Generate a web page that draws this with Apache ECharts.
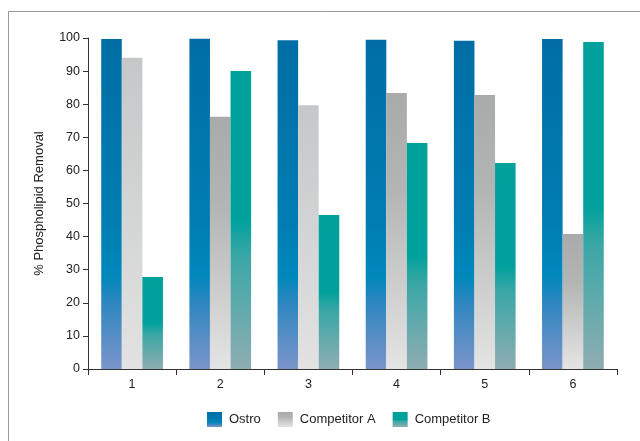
<!DOCTYPE html>
<html>
<head>
<meta charset="utf-8">
<script src="https://cdn.jsdelivr.net/npm/echarts@6/dist/echarts.min.js"></script>
<style>html,body{margin:0;padding:0;background:#fff}#c{width:640px;height:441px}</style>
</head>
<body>
<div id="c"></div>
<script>
var categories = ['1', '2', '3', '4', '5', '6'];
var seriesNames = ['Ostro', 'Competitor A', 'Competitor B'];
var ostro = [99.7, 99.8, 99.3, 99.5, 99.2, 99.7];
var competitorA = [94.0, 76.2, 79.7, 83.4, 82.8, 40.8];
var competitorB = [27.8, 90.0, 46.5, 68.3, 62.2, 98.8];
var yTicks = [0, 10, 20, 30, 40, 50, 60, 70, 80, 90, 100];

function grad(stops) {
  return new echarts.graphic.LinearGradient(0, 0, 0, 1, stops.map(function (s) { return { offset: s[0], color: s[1] }; }));
}
var ostroGrad = grad([[0, '#006ea5'], [0.55, '#007db3'], [0.72, '#0088bc'], [0.8, '#2f86bf'], [1, '#7b95ca']]);
var compBGrad = grad([[0, '#00a09b'], [0.5, '#00a19c'], [0.62, '#3aa7a6'], [1, '#8fadb3']]);
var compAGradDark = grad([[0, '#a9aaaa'], [0.35, '#b3b4b4'], [1, '#e4e4e4']]);
var compAGradLight = grad([[0, '#c5c7c8'], [1, '#e2e2e2']]);
var compALight = [true, false, true, false, false, false];

var chart = echarts.init(document.getElementById('c'), null, { renderer: 'canvas' });
var font = 'Liberation Sans, Arial, sans-serif';
chart.setOption({
  animation: false,
  backgroundColor: '#fff',
  graphic: [
    { type: 'line', shape: { x1: 8.5, y1: 11.5, x2: 640, y2: 11.5 }, style: { stroke: '#9a9a9a', lineWidth: 1 } },
    { type: 'line', shape: { x1: 8.5, y1: 11.5, x2: 8.5, y2: 441 }, style: { stroke: '#9a9a9a', lineWidth: 1 } }
  ],
  grid: { left: 88, right: 23, top: 38, bottom: 72, containLabel: false },
  legend: {
    top: 407,
    left: 202,
    icon: 'rect',
    itemWidth: 15,
    itemHeight: 15,
    itemGap: 17,
    textStyle: { fontFamily: font, fontSize: 13, color: '#222', padding: [0, 0, 0, 2] },
    data: seriesNames
  },
  xAxis: {
    type: 'category',
    data: categories,
    axisLine: { lineStyle: { color: '#333', width: 1 } },
    axisTick: { show: true, length: 6, lineStyle: { color: '#333' } },
    axisLabel: { fontFamily: font, fontSize: 12.5, color: '#222', margin: 9 }
  },
  yAxis: {
    type: 'value',
    min: yTicks[0],
    max: yTicks[yTicks.length - 1],
    interval: 10,
    name: '% Phospholipid Removal',
    nameLocation: 'middle',
    nameGap: 42,
    nameTextStyle: { fontFamily: font, fontSize: 13, color: '#222' },
    axisLine: { show: true, lineStyle: { color: '#333', width: 1 } },
    axisTick: { show: true, length: 5, lineStyle: { color: '#333' } },
    axisLabel: { fontFamily: font, fontSize: 12.5, color: '#222', margin: 8 },
    splitLine: { show: false }
  },
  series: [
    { name: seriesNames[0], type: 'bar', barGap: '0%', barCategoryGap: '30%', data: ostro, itemStyle: { color: ostroGrad } },
    { name: seriesNames[1], type: 'bar', barGap: '0%', barCategoryGap: '30%',
      data: competitorA.map(function (v, i) { return { value: v, itemStyle: { color: compALight[i] ? compAGradLight : compAGradDark } }; }),
      itemStyle: { color: compAGradDark } },
    { name: seriesNames[2], type: 'bar', barGap: '0%', barCategoryGap: '30%', data: competitorB, itemStyle: { color: compBGrad } }
  ]
});
</script>
</body>
</html>
